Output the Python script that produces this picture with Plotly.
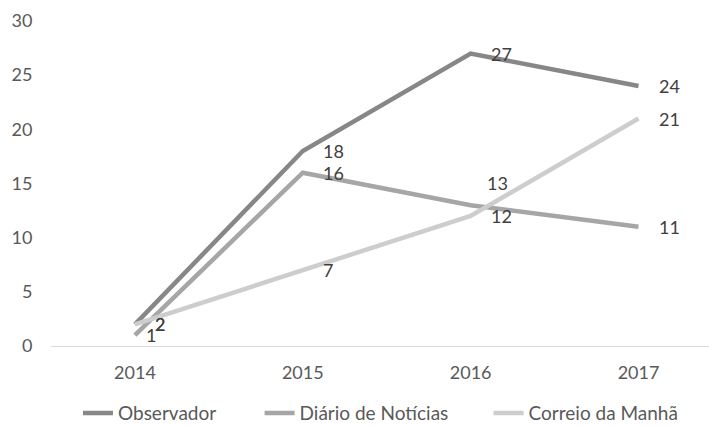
import plotly.graph_objects as go

years = ["2014", "2015", "2016", "2017"]
observador = [2, 18, 27, 24]
diario = [1, 16, 13, 11]
correio = [2, 7, 12, 21]

series = [
    ("Observador", observador, "#878787"),
    ("Diário de Notícias", diario, "#a6a6a6"),
    ("Correio da Manhã", correio, "#cdcdcd"),
]

FONT = "Lato, Carlito, 'Open Sans', sans-serif"
TXT = "#595959"
LBL = "#404040"

legend_ids = ["legend", "legend2", "legend3"]
legend_x = [0.041, 0.317, 0.665]

fig = go.Figure()
for (name, vals, col), lid in zip(series, legend_ids):
    fig.add_trace(go.Scatter(
        x=years, y=vals, name=name, mode="lines",
        line=dict(color=col, width=4.5), legend=lid,
    ))

# data label offsets (style only)
special = {("Diário de Notícias", 0): (9, 0), ("Diário de Notícias", 2): (14, 22)}
annotations = []
for name, vals, col in series:
    for i, v in enumerate(vals):
        xs, ys = special.get((name, i), (18, 0))
        annotations.append(dict(
            x=i, y=v, xref="x", yref="y", text=str(v), showarrow=False,
            xanchor="left", yanchor="middle", xshift=xs, yshift=ys,
            font=dict(family=FONT, size=18, color=LBL),
        ))

legend_common = dict(orientation="h", y=-0.265, yanchor="bottom", xanchor="left",
                     font=dict(family=FONT, size=19, color=TXT),
                     bgcolor="rgba(0,0,0,0)", borderwidth=0)

fig.update_layout(
    width=709, height=427,
    margin=dict(l=51, r=0, t=21, b=81, autoexpand=False),
    paper_bgcolor="white", plot_bgcolor="white",
    font=dict(family=FONT, size=17, color=TXT),
    showlegend=True,
    legend=dict(x=legend_x[0], **legend_common),
    legend2=dict(x=legend_x[1], **legend_common),
    legend3=dict(x=legend_x[2], **legend_common),
    annotations=annotations,
)
fig.update_xaxes(
    type="category", range=[-0.5, 3.42], showgrid=False, zeroline=False,
    showline=True, linecolor="#d9d9d9", linewidth=1,
    ticks="outside", ticklen=10, tickcolor="rgba(0,0,0,0)",
    tickfont=dict(family=FONT, size=18, color=TXT),
)
fig.update_yaxes(
    range=[0, 30], dtick=5, showgrid=False, zeroline=False, showline=False,
    ticks="outside", ticklen=14, tickcolor="rgba(0,0,0,0)",
    tickfont=dict(family=FONT, size=18, color=TXT),
)

fig.write_html("out.html", config={"displayModeBar": False},
               post_script="document.body.style.margin='0';")
